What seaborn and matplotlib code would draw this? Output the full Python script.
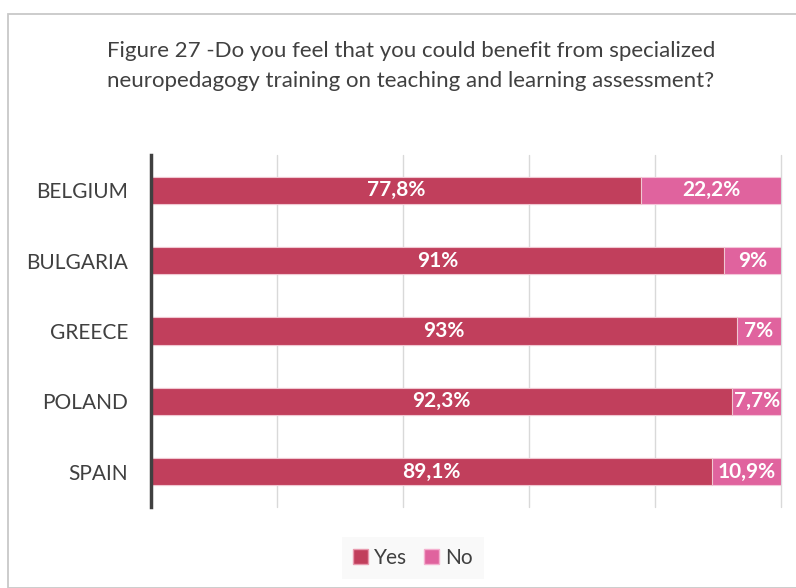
import matplotlib
matplotlib.use("Agg")
import matplotlib.pyplot as plt
import seaborn as sns
import pandas as pd
from matplotlib.patches import Rectangle, Patch

countries = ["BELGIUM", "BULGARIA", "GREECE", "POLAND", "SPAIN"]
yes_vals = [77.8, 91, 93, 92.3, 89.1]
no_vals = [22.2, 9, 7, 7.7, 10.9]
yes_labels = ["77,8%", "91%", "93%", "92,3%", "89,1%"]
no_labels = ["22,2%", "9%", "7%", "7,7%", "10,9%"]

title = ("Figure 27 -Do you feel that you could benefit from specialized\n"
         "neuropedagogy training on teaching and learning assessment?")

YES_C = "#C13F5C"
NO_C = "#E0639E"

sns.set_theme(style="white")
plt.rcParams["font.family"] = ["Lato", "DejaVu Sans"]

df = pd.DataFrame({"country": countries, "yes": yes_vals, "no": no_vals})
df["total"] = df["yes"] + df["no"]

fig = plt.figure(figsize=(7.96, 5.88), dpi=100)
W, H = 796, 588
# outer border
fig.patches.append(Rectangle((8 / W, 0), 1.2, (H - 14) / H, transform=fig.transFigure,
                             fill=False, edgecolor="#C8C8C8", linewidth=1.3))

ax = fig.add_axes([151 / W, 1 - 507 / H, (781 - 151) / W, (507 - 155) / H])

sns.barplot(data=df, y="country", x="total", orient="h", color=NO_C, width=0.385,
            ax=ax, edgecolor="#F4C6DA", linewidth=0.8, saturation=1, zorder=2)
sns.barplot(data=df, y="country", x="yes", orient="h", color=YES_C, width=0.385,
            ax=ax, edgecolor="#F0C8D2", linewidth=0.8, saturation=1, zorder=3)

for i, (y, n) in enumerate(zip(yes_vals, no_vals)):
    ax.text(y / 2, i, yes_labels[i], ha="center", va="center", color="white",
            fontsize=15, fontweight="bold", zorder=5)
    ax.text(y + n / 2, i, no_labels[i], ha="center", va="center", color="white",
            fontsize=15, fontweight="bold", zorder=5)

ax.set_xlim(0, 100)
ax.set_ylim(4.5, -0.5)
ax.set_xticks([0, 20, 40, 60, 80, 100])
ax.set_xticklabels([])
ax.xaxis.grid(True, color="#D9D9D9", linewidth=1, zorder=0)
for gl in ax.get_xgridlines():
    gl.set_clip_on(False)
ax.set_axisbelow(True)
ax.set_xlabel("")
ax.set_ylabel("")
ax.tick_params(axis="y", length=0, pad=16.5, labelsize=15, labelcolor="#404040")
ax.tick_params(axis="x", length=0)
for s in ["top", "right", "bottom"]:
    ax.spines[s].set_visible(False)
ax.spines["left"].set_color("#404040")
ax.spines["left"].set_linewidth(2.5)
ax.spines["left"].set_zorder(6)

fig.text(411 / W, 1 - 66 / H, title, ha="center", va="center", fontsize=16,
         color="#404040", linespacing=1.62)

handles = [Patch(facecolor=YES_C, edgecolor="#E89AAE", label="Yes"),
           Patch(facecolor=NO_C, edgecolor="#F4B0CF", label="No")]
leg = fig.legend(handles=handles, loc="center", bbox_to_anchor=(413 / W, 1 - 558 / H),
                 ncol=2, frameon=True, fontsize=15, handlelength=0.7, handleheight=0.7,
                 handletextpad=0.3, columnspacing=0.8, borderpad=0.55, labelcolor="#404040")
leg.get_frame().set_facecolor("#F8F8F8")
leg.get_frame().set_edgecolor("none")
leg.get_frame().set_boxstyle("square", pad=0)

fig.savefig("out.png", dpi=100)
